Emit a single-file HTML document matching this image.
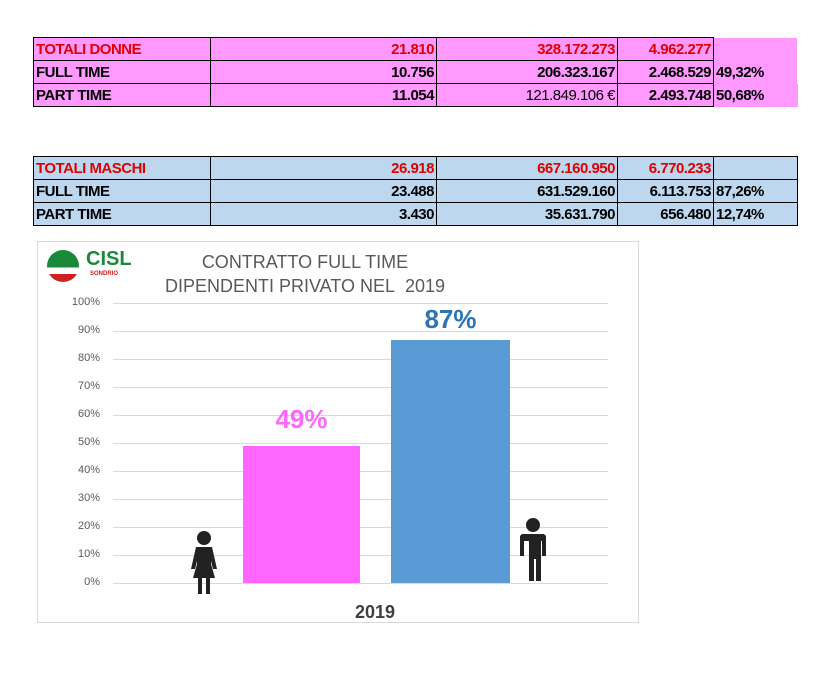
<!DOCTYPE html>
<html><head><style>
body{margin:0;background:#fff;width:828px;height:691px;position:relative;font-family:"Liberation Sans",sans-serif;overflow:hidden}
.t{position:absolute;border-collapse:collapse;font-family:"Liberation Sans Narrow","Liberation Sans",sans-serif;font-weight:bold;font-size:15px;letter-spacing:-0.5px;table-layout:fixed}
.t td{border:1px solid #000;height:22px;padding:0 2px;text-align:right;white-space:nowrap;overflow:hidden}
.t td:first-child{text-align:left}
.r{color:#e00000}
.p td{background:#ff99ff}
.b td{background:#bdd7ee}
.p td.nb{border:none}
.n{font-weight:normal}
.g{position:absolute;left:113px;width:495px;height:1px;background:#d9d9d9}
.yl{position:absolute;left:50px;width:50px;text-align:right;font-size:11px;color:#595959}
</style></head><body>
<table class="t p" style="left:33px;top:37px;width:764px">
<colgroup><col style="width:177px"><col style="width:226px"><col style="width:181px"><col style="width:96px"><col style="width:84px"></colgroup>
<tr><td class="r">TOTALI DONNE</td><td class="r">21.810</td><td class="r">328.172.273</td><td class="r">4.962.277</td><td class="nb"></td></tr>
<tr><td>FULL TIME</td><td>10.756</td><td>206.323.167</td><td>2.468.529</td><td class="nb" style="text-align:left">49,32%</td></tr>
<tr><td>PART TIME</td><td>11.054</td><td class="n">121.849.106 €</td><td>2.493.748</td><td class="nb" style="text-align:left">50,68%</td></tr>
</table>
<table class="t b" style="left:33px;top:156px;width:764px">
<colgroup><col style="width:177px"><col style="width:226px"><col style="width:181px"><col style="width:96px"><col style="width:84px"></colgroup>
<tr><td class="r">TOTALI MASCHI</td><td class="r">26.918</td><td class="r">667.160.950</td><td class="r">6.770.233</td><td></td></tr>
<tr><td>FULL TIME</td><td>23.488</td><td>631.529.160</td><td>6.113.753</td><td style="text-align:left">87,26%</td></tr>
<tr><td>PART TIME</td><td>3.430</td><td>35.631.790</td><td>656.480</td><td style="text-align:left">12,74%</td></tr>
</table>
<div style="position:absolute;left:37px;top:241px;width:600px;height:380px;border:1px solid #d9d9d9"></div>
<div style="position:absolute;left:47px;top:250px;width:32px;height:32px;border-radius:50%;background:linear-gradient(#1a8a3a 0,#1a8a3a 55%,#fff 55%,#fff 75%,#d02020 75%)"></div>
<div style="position:absolute;left:86px;top:248px;font-weight:bold;font-size:20px;color:#1a8a3a">CISL</div>
<div style="position:absolute;left:90px;top:271px;font-weight:bold;font-size:6px;color:#d02020">SONDRIO</div>
<div style="position:absolute;left:140px;top:250px;width:330px;text-align:center;font-size:18px;line-height:24px;color:#595959">CONTRATTO FULL TIME<br>DIPENDENTI PRIVATO NEL&nbsp; 2019</div>
<div class="g" style="top:303px"></div><div class="g" style="top:331px"></div><div class="g" style="top:359px"></div><div class="g" style="top:387px"></div><div class="g" style="top:415px"></div><div class="g" style="top:443px"></div><div class="g" style="top:471px"></div><div class="g" style="top:499px"></div><div class="g" style="top:527px"></div><div class="g" style="top:555px"></div><div class="g" style="top:583px"></div>
<div class="yl" style="top:296px">100%</div><div class="yl" style="top:324px">90%</div><div class="yl" style="top:352px">80%</div><div class="yl" style="top:380px">70%</div><div class="yl" style="top:408px">60%</div><div class="yl" style="top:436px">50%</div><div class="yl" style="top:464px">40%</div><div class="yl" style="top:492px">30%</div><div class="yl" style="top:520px">20%</div><div class="yl" style="top:548px">10%</div><div class="yl" style="top:576px">0%</div>
<div style="position:absolute;left:243px;top:446px;width:117px;height:137px;background:#ff66ff"></div>
<div style="position:absolute;left:391px;top:340px;width:119px;height:243px;background:#5b9bd5"></div>
<div style="position:absolute;left:243px;top:404px;width:117px;text-align:center;font-weight:bold;font-size:26px;color:#ff66ff">49%</div>
<div style="position:absolute;left:391px;top:304px;width:119px;text-align:center;font-weight:bold;font-size:26px;color:#2e75b6">87%</div>
<div style="position:absolute;left:300px;top:602px;width:150px;text-align:center;font-weight:bold;font-size:18px;color:#404040">2019</div>
<svg style="position:absolute;left:188px;top:530px" width="32" height="64" viewBox="0 0 32 64"><circle cx="16" cy="8" r="7" fill="#222"/><path d="M8 17h16l5 22h-4l-2-8v3l4 14h-5v16h-4V48h-4v16h-4V48H5l4-14v-3l-2 8H3z" fill="#222"/></svg>
<svg style="position:absolute;left:517px;top:517px" width="32" height="64" viewBox="0 0 32 64"><circle cx="16" cy="8" r="7" fill="#222"/><path d="M5 17h22l2 2v20h-4V24h-1v40h-5V42h-2v22h-5V24H7v15H3V19z" fill="#222"/></svg>
</body></html>
